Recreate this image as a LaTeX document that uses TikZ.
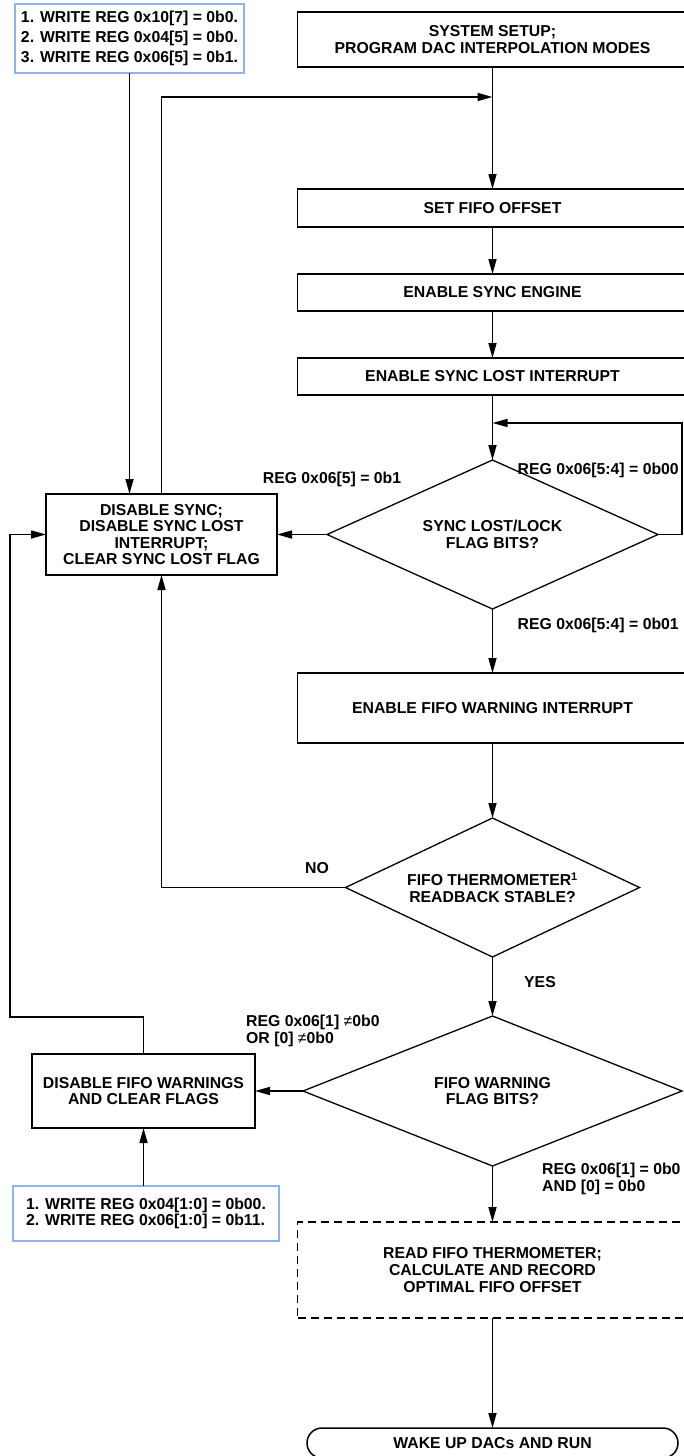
\documentclass[tikz,border=0pt]{standalone}
\usepackage{fontspec}
\setmainfont{Liberation Sans}
\usepackage{tikz}
\usetikzlibrary{arrows.meta,positioning,shapes.geometric}
\usepackage{xcolor}
\definecolor{noteblue}{HTML}{8CB4F0}
\newcommand{\flowfont}{\fontsize{15.8}{16.6}\selectfont\bfseries}
\newcommand{\notefont}{\fontsize{15.8}{20}\selectfont\bfseries}
\tikzset{
    flowbox/.style={draw, line width=1.6pt, minimum width=390pt, inner sep=0pt, outer sep=0pt, align=center, font=\flowfont},
    flowdecision/.style={diamond, draw, line width=1.3pt, inner sep=0pt, outer sep=0pt, align=center, font=\flowfont},
    flowside/.style={draw, line width=1.6pt, inner sep=0pt, outer sep=0pt, align=center, font=\flowfont},
    flownote/.style={draw=noteblue, line width=1.4pt, fill=white, inner sep=0pt, outer sep=0pt, align=left, font=\notefont},
    flowterminal/.style={draw, line width=1.5pt, rounded corners=15pt, inner sep=0pt, outer sep=0pt, font=\flowfont},
    flowarrow/.style={-{Triangle[length=15pt,width=8pt]}, line width=1.5pt},
    flowlabel/.style={inner sep=0pt, align=left, font=\flowfont}
}

\begin{document}
\begin{tikzpicture}[x=1pt, y=-1pt]
        \useasboundingbox (0,0) rectangle (683,1456);

        \node[flowbox, minimum height=55pt] (setup) at (492.5,39.5) {SYSTEM SETUP;\\PROGRAM DAC INTERPOLATION MODES};
        \node[flowbox, minimum height=38pt, below=122pt of setup] (offset) {SET FIFO OFFSET};
        \node[flowbox, minimum height=37pt, below=47pt of offset] (engine) {ENABLE SYNC ENGINE};
        \node[flowbox, minimum height=37pt, below=47pt of engine] (lostint) {ENABLE SYNC LOST INTERRUPT};
        \node[flowdecision, minimum width=331pt, minimum height=149pt, aspect=2.22, below=65pt of lostint] (syncdec) {SYNC LOST/LOCK\\FLAG BITS?};
        \node[flowbox, minimum height=70pt, below=64pt of syncdec] (warnint) {ENABLE FIFO WARNING INTERRUPT};
        \node[flowdecision, minimum width=294pt, minimum height=139pt, aspect=2.11, below=75pt of warnint] (thermdec) {FIFO THERMOMETER\textsuperscript{1}\\READBACK STABLE?};
        \node[flowdecision, minimum width=379pt, minimum height=150pt, aspect=2.53, below=59pt of thermdec] (flagdec) {FIFO WARNING\\FLAG BITS?};
        \node[flowbox, dash pattern=on 8pt off 5pt, minimum height=96pt, below=56pt of flagdec] (readfifo) {READ FIFO THERMOMETER;\\CALCULATE AND RECORD\\OPTIMAL FIFO OFFSET};
        \node[flowterminal, minimum width=371pt, minimum height=30pt, below=110pt of readfifo] (wake) {WAKE UP DACs AND RUN};

        \node[flowside, minimum width=231pt, minimum height=81pt, left=50pt of syncdec] (disync) {DISABLE SYNC;\\DISABLE SYNC LOST\\INTERRUPT;\\CLEAR SYNC LOST FLAG};
        \node[flowside, minimum width=223pt, minimum height=74pt, left=48pt of flagdec] (disfifo) {DISABLE FIFO WARNINGS\\AND CLEAR FLAGS};
        \node[flownote, minimum width=229pt, minimum height=69pt] (prog1) at (129.5,38.5) {1. WRITE REG 0x10[7] = 0b0.\\2. WRITE REG 0x04[5] = 0b0.\\3. WRITE REG 0x06[5] = 0b1.};
        \node[flownote, font=\flowfont, minimum width=266pt, minimum height=55pt, below=58pt of disfifo, xshift=2.5pt] (prog2) {1. WRITE REG 0x04[1:0] = 0b00.\\2. WRITE REG 0x06[1:0] = 0b11.};

        \coordinate[below=30pt of setup] (topjoin);
        \coordinate[above=37pt of syncdec] (rightjoin);
        \coordinate[left=36pt of disync] (leftjoin);

        \node[flowlabel] (lab5) at (332,479) {REG 0x06[5] = 0b1};
        \node[flowlabel, anchor=east] (lab00) at (679,470) {REG 0x06[5:4] = 0b00};
        \node[flowlabel, anchor=east] (lab01) at (679,625) {REG 0x06[5:4] = 0b01};
        \node[flowlabel] (labno) at (317,868) {NO};
        \node[flowlabel] (labyes) at (540,982) {YES};
        \node[flowlabel, anchor=west] (labneq) at (246,1031) {REG 0x06[1] {\mdseries ≠}0b0\\OR [0] {\mdseries ≠}0b0};
        \node[flowlabel, anchor=west] (labeq) at (542,1179) {REG 0x06[1] = 0b0\\AND [0] = 0b0};

        \draw[flowarrow] (setup) -- (offset);
        \draw[flowarrow] (offset) -- (engine);
        \draw[flowarrow] (engine) -- (lostint);
        \draw[flowarrow] (lostint) -- (syncdec);
        \draw[flowarrow] (syncdec) -- (warnint);
        \draw[flowarrow] (warnint) -- (thermdec);
        \draw[flowarrow] (thermdec) -- (flagdec);
        \draw[flowarrow] (flagdec) -- (readfifo);
        \draw[flowarrow] (readfifo) -- (wake);

        \draw[flowarrow] (syncdec.east) -- ++(24pt,0) |- (rightjoin);
        \draw[flowarrow] (syncdec.west) -- (disync.east);
        \draw[flowarrow] (flagdec.west) -- (disfifo.east);
        \draw[flowarrow] (prog1.south) -- (prog1.south |- disync.north);
        \draw[flowarrow] (disync.north) |- (topjoin);
        \draw[flowarrow] (thermdec.west) -| (disync.south);
        \draw[flowarrow] (disfifo.north) -- ++(0,-37) -| (leftjoin) -- (disync.west);
        \draw[flowarrow] (prog2.north -| disfifo.south) -- (disfifo.south);
    \end{tikzpicture}
\end{document}
